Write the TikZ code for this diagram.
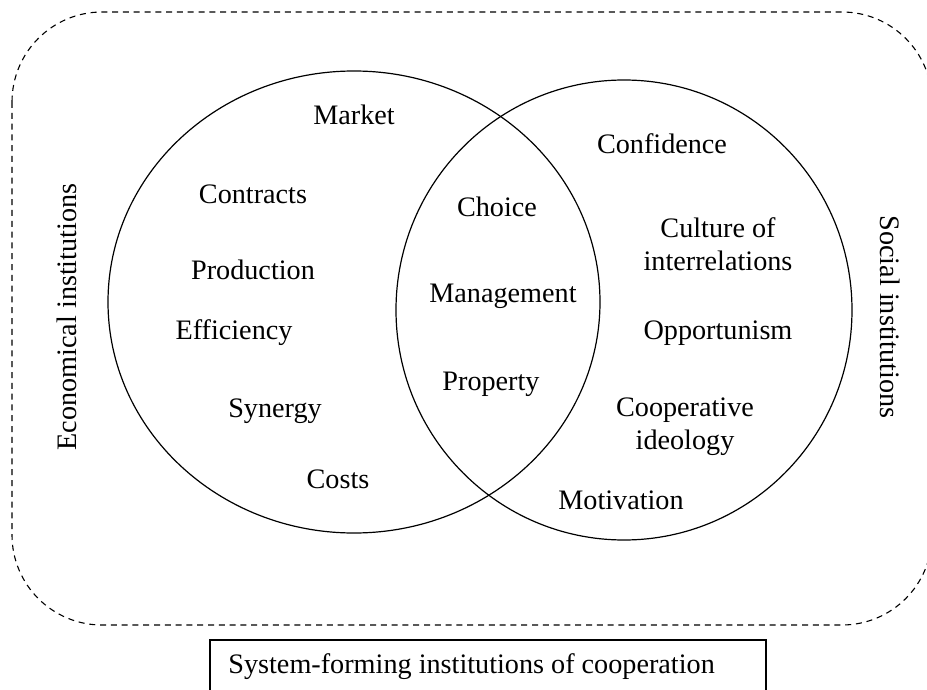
\documentclass[tikz,border=0pt]{standalone}
\usepackage{fontspec}
\setmainfont{Liberation Serif}
\begin{document}
\begin{tikzpicture}[x=0.5pt,y=-0.5pt,
    lbl/.style={font=\fontsize{14.1}{16.5}\selectfont, align=center, inner sep=0pt},
    venn/.style={line width=0.6pt}]
  \useasboundingbox (0,0) rectangle (927,690);
  % frame and the two sets
  \draw[dash pattern=on 3pt off 2.4pt, line width=0.55pt, rounded corners=45pt]
    (12,12) rectangle (932,625);
  \draw[venn] (354,302) ellipse [x radius=123pt, y radius=115.5pt];
  \draw[venn] (624,310) ellipse [x radius=114pt, y radius=115pt];
  % economical
  \node[lbl] (market) at (354,115) {Market};
  \node[lbl] (contracts) at (253,194) {Contracts};
  \node[lbl] (production) at (253,270) {Production};
  \node[lbl] (efficiency) at (234,333) {Efficiency};
  \node[lbl] (synergy) at (275,411) {Synergy};
  \node[lbl] (costs) at (338,479) {Costs};
  % common
  \node[lbl] (choice) at (497,207) {Choice};
  \node[lbl] (management) at (503,296) {Management};
  \node[lbl] (property) at (491,384) {Property};
  % social
  \node[lbl] (confidence) at (662,144) {Confidence};
  \node[lbl] (culture) at (718,244) {Culture of\\interrelations};
  \node[lbl] (opportunism) at (718,333) {Opportunism};
  \node[lbl] (ideology) at (685,427) {Cooperative\\ideology};
  \node[lbl] (motivation) at (621,500) {Motivation};
  % side titles
  \node[lbl, rotate=90] (econ) at (67,317) {Economical institutions};
  \node[lbl, rotate=-90] (social) at (890,317) {Social institutions};
  % bottom caption
  \draw[line width=0.55pt] (210,640) rectangle (766,700);
  \node[lbl, anchor=west] (system) at (228,667) {System-forming institutions of cooperation};
\end{tikzpicture}
\end{document}
